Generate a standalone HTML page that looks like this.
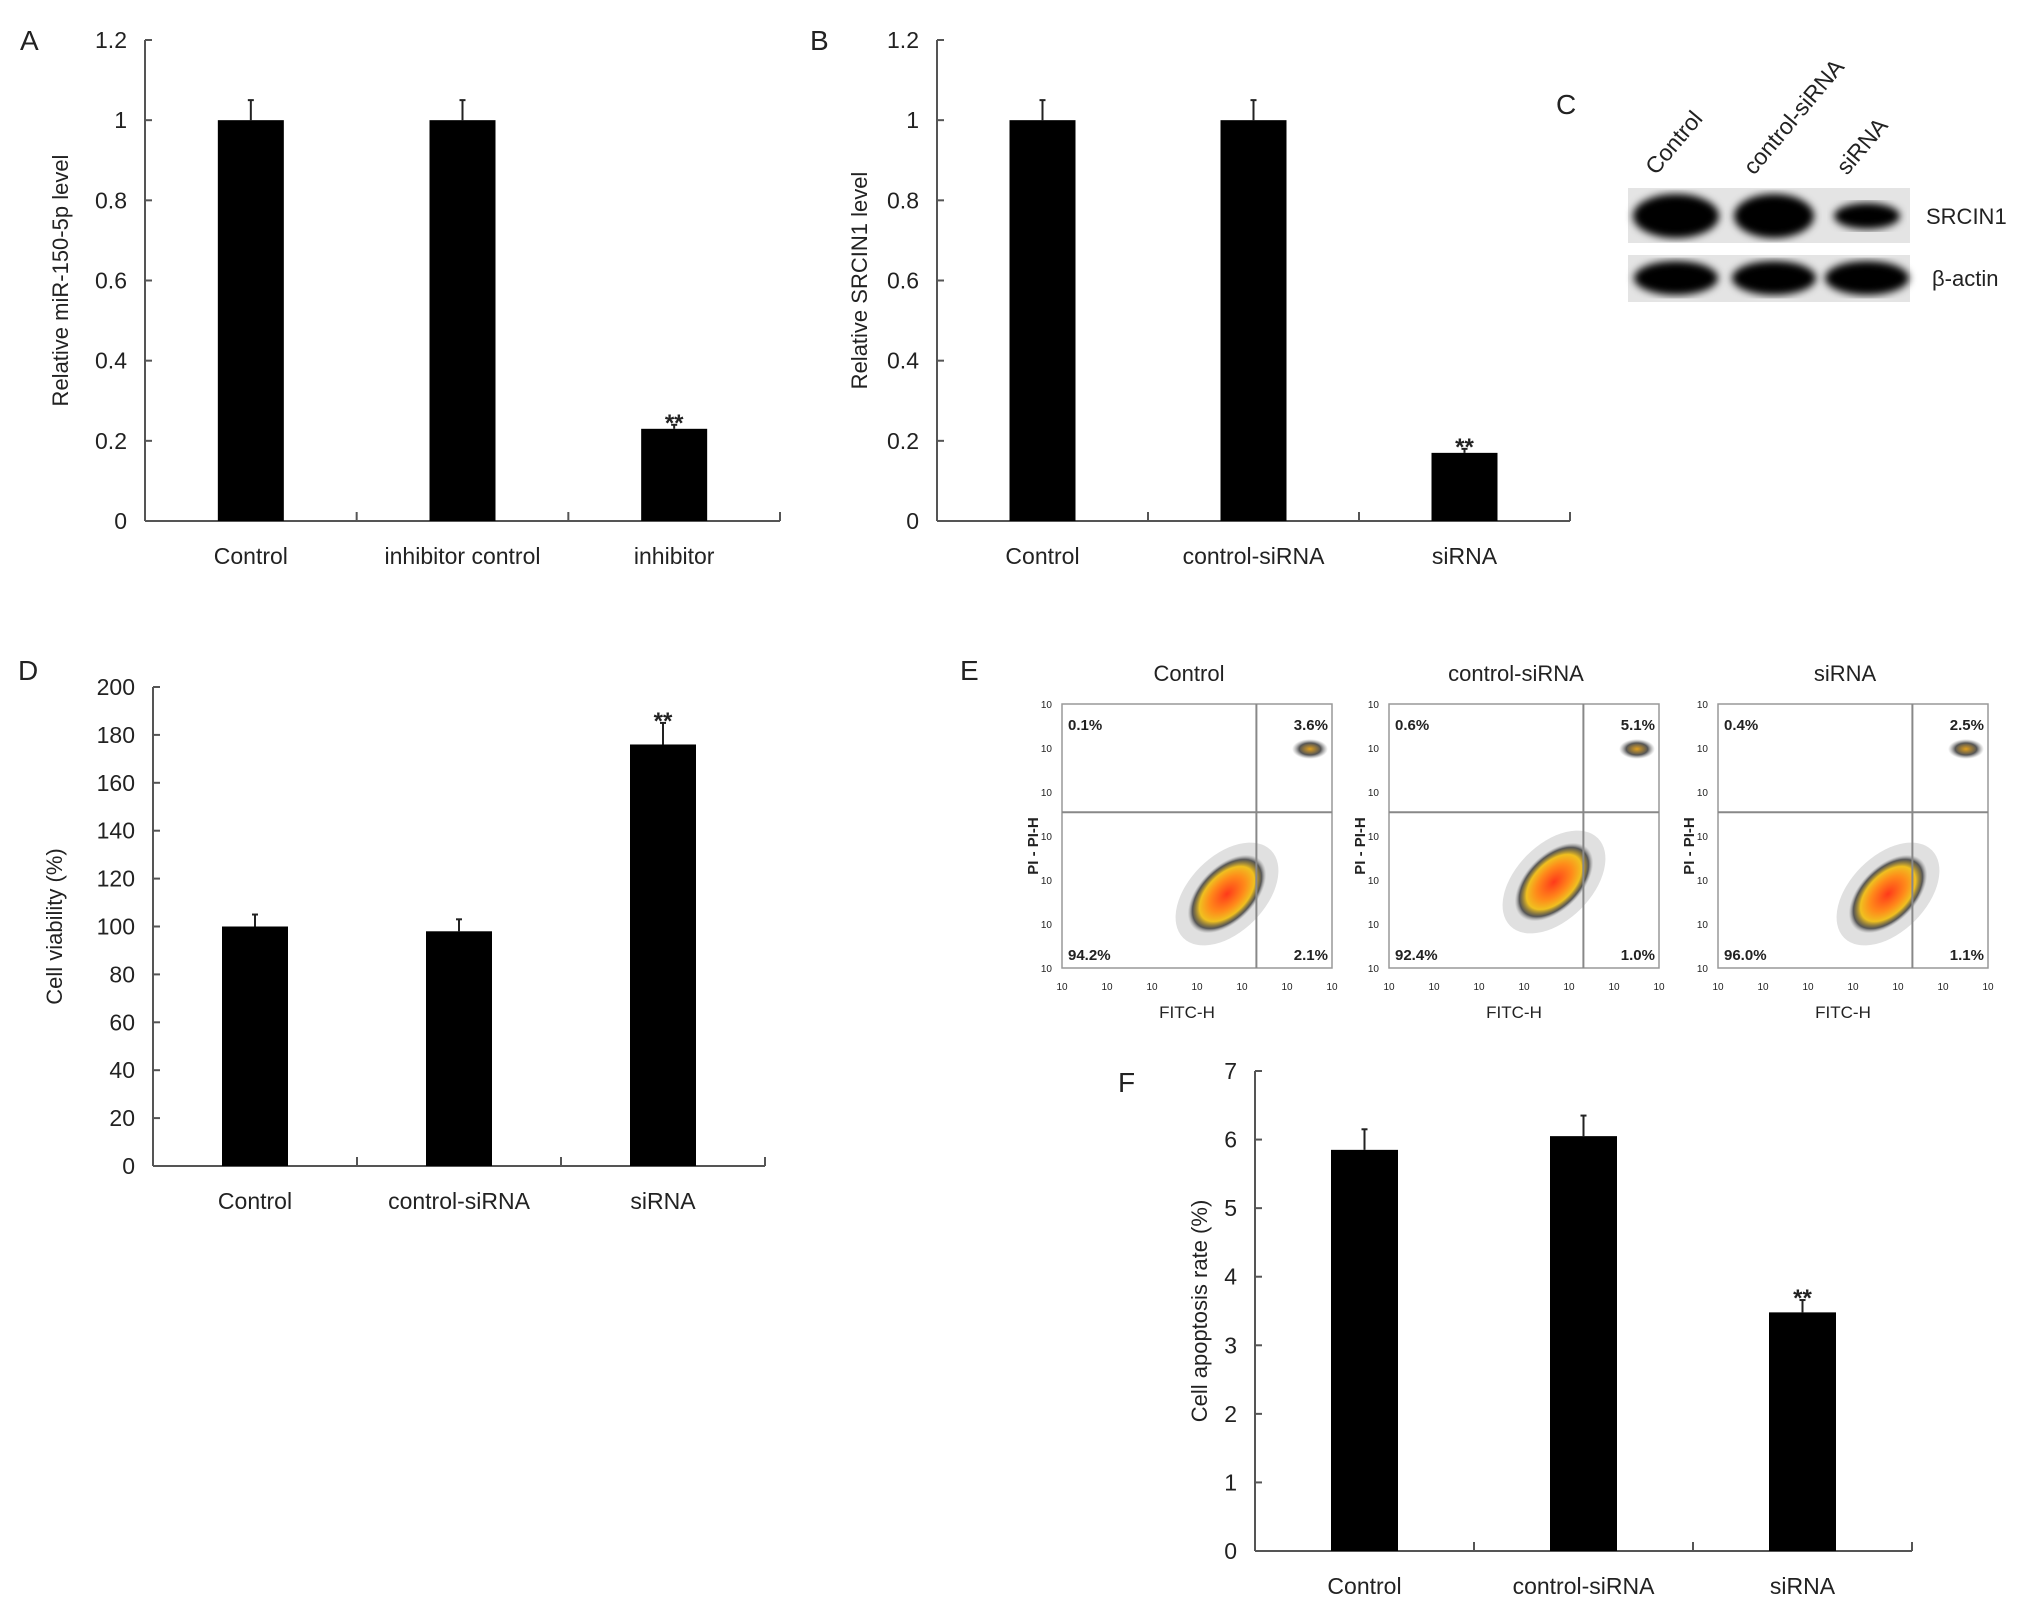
<!DOCTYPE html>
<html><head><meta charset="utf-8">
<style>
html,body{margin:0;padding:0;background:#fff;}
svg{display:block;}
text{font-family:"Liberation Sans",Arial,sans-serif;fill:#222;}
</style></head>
<body>
<svg id="fig" width="2031" height="1611" viewBox="0 0 2031 1611" xmlns="http://www.w3.org/2000/svg">
<defs>
<radialGradient id="blob" cx="50%" cy="50%" r="50%">
<stop offset="0%" stop-color="#ff3a1a"/>
<stop offset="45%" stop-color="#ff8a1a"/>
<stop offset="70%" stop-color="#f0c020"/>
<stop offset="88%" stop-color="#333" stop-opacity="0.8"/>
<stop offset="100%" stop-color="#888" stop-opacity="0"/>
</radialGradient>
<radialGradient id="blob2" cx="50%" cy="50%" r="50%">
<stop offset="0%" stop-color="#e0a020"/>
<stop offset="60%" stop-color="#555"/>
<stop offset="100%" stop-color="#999" stop-opacity="0"/>
</radialGradient>
<filter id="blur"><feGaussianBlur stdDeviation="4"/></filter>
</defs>
<g id="panels"></g>
</svg>
<script>
// Panel A data
const catsA = ["Control","inhibitor control","inhibitor"];
const valsA = [1, 1, 0.23];
const errsA = [0.05, 0.05, 0.01];
const ticksA = ["0","0.2","0.4","0.6","0.8","1","1.2"];
// Panel B data
const catsB = ["Control","control-siRNA","siRNA"];
const valsB = [1, 1, 0.17];
const errsB = [0.05, 0.05, 0.01];
const ticksB = ["0","0.2","0.4","0.6","0.8","1","1.2"];
// Panel D data
const catsD = ["Control","control-siRNA","siRNA"];
const valsD = [100, 98, 176];
const errsD = [5, 5, 9];
const ticksD = ["0","20","40","60","80","100","120","140","160","180","200"];
// Panel F data
const catsF = ["Control","control-siRNA","siRNA"];
const valsF = [5.85, 6.05, 3.48];
const errsF = [0.3, 0.3, 0.18];
const ticksF = ["0","1","2","3","4","5","6","7"];
// significance markers
const sigA = ["","","**"];
const sigB = ["","","**"];
const sigD = ["","","**"];
const sigF = ["","","**"];
// Panel E quadrant percentages
const flowTitles = ["Control","control-siRNA","siRNA"];
const flowUL = ["0.1%","0.6%","0.4%"];
const flowUR = ["3.6%","5.1%","2.5%"];
const flowLL = ["94.2%","92.4%","96.0%"];
const flowLR = ["2.1%","1.0%","1.1%"];

const NS = "http://www.w3.org/2000/svg";
const root = document.getElementById("panels");
function mk(tag, attrs, parent, txt){
  const e = document.createElementNS(NS, tag);
  for (const k in attrs) e.setAttribute(k, attrs[k]);
  if (txt !== undefined) e.textContent = txt;
  (parent||root).appendChild(e);
  return e;
}

function barChart(o){
  const g = mk("g", {});
  
  
  const max = parseFloat(o.ticks[o.ticks.length-1]);
  const y = v => o.y0 - (v/max)*(o.y0 - o.yTop);
  const n = o.cats.length;
  const step = (o.xEnd - o.x0)/n;
  const xc = i => o.x0 + step*(i+0.5);
  const ya = mk("line",{x1:o.x0,y1:o.yTop,x2:o.x0,y2:o.y0,stroke:"#555","stroke-width":2},g);
  
  
  const xa = mk("line",{x1:o.x0,y1:o.y0,x2:o.xEnd,y2:o.y0,stroke:"#555","stroke-width":2},g);
  
  
  o.ticks.forEach((t)=>{
    const yy = y(parseFloat(t));
    mk("line",{x1:o.x0,y1:yy,x2:o.x0+7,y2:yy,stroke:"#555","stroke-width":2},g);
    const tl = mk("text",{x:o.x0-18,y:yy+8,"text-anchor":"end","font-size":23},g,t);
    
    
  });
  for (let i=1;i<=n;i++){
    const xx = o.x0+step*i;
    mk("line",{x1:xx,y1:o.y0,x2:xx,y2:o.y0-9,stroke:"#555","stroke-width":2},g);
  }
  o.cats.forEach((c,i)=>{
    const top = y(o.vals[i]);
    const eb = mk("line",{x1:xc(i),y1:y(o.vals[i]+o.errs[i]),x2:xc(i),y2:top,stroke:"#222","stroke-width":2},g);
    
    
    mk("line",{x1:xc(i)-3,y1:y(o.vals[i]+o.errs[i]),x2:xc(i)+3,y2:y(o.vals[i]+o.errs[i]),stroke:"#222","stroke-width":2},g);
    const b = mk("rect",{x:xc(i)-o.bw/2,y:top,width:o.bw,height:o.y0-top,fill:"#000"},g);
    
    
    const cl = mk("text",{x:xc(i),y:o.y0+43,"text-anchor":"middle","font-size":23},g,c);
    
    
    if (o.sig[i]){
      const s = mk("text",{x:xc(i),y:y(o.vals[i]+o.errs[i])+6,"text-anchor":"middle","font-size":24,"font-weight":"bold"},g,o.sig[i]);
      
      
    }
  });
  const yt = mk("text",{x:0,y:0,"text-anchor":"middle","font-size":22,transform:`translate(${o.titleX},${(o.y0+o.yTop)/2}) rotate(-90)`},g,o.title);
  
  
  const pl = mk("text",{x:o.letter[0],y:o.letter[1],"font-size":28},g,o.letterT);
  
  
}

barChart({name:"chart-a",cats:catsA,vals:valsA,errs:errsA,ticks:ticksA,sig:sigA,x0:145,xEnd:780,yTop:40,y0:521,bw:66,title:"Relative miR-150-5p level",titleX:68,letter:[20,50],letterT:"A"});
barChart({name:"chart-b",cats:catsB,vals:valsB,errs:errsB,ticks:ticksB,sig:sigB,x0:937,xEnd:1570,yTop:40,y0:521,bw:66,title:"Relative SRCIN1 level",titleX:867,letter:[810,50],letterT:"B"});
barChart({name:"chart-d",cats:catsD,vals:valsD,errs:errsD,ticks:ticksD,sig:sigD,x0:153,xEnd:765,yTop:687,y0:1166,bw:66,title:"Cell viability (%)",titleX:62,letter:[18,680],letterT:"D"});
barChart({name:"chart-f",cats:catsF,vals:valsF,errs:errsF,ticks:ticksF,sig:sigF,x0:1255,xEnd:1912,yTop:1071,y0:1551,bw:67,title:"Cell apoptosis rate (%)",titleX:1207,letter:[1118,1092],letterT:"F"});

// Panel C western blot
(function(){
  const g = mk("g",{});
  
  
  const c = mk("text",{x:1556,y:114,"font-size":28},g,"C");
  
  
  mk("rect",{x:1628,y:188,width:282,height:55,fill:"#e4e4e4"},g);
  mk("rect",{x:1628,y:255,width:282,height:47,fill:"#e4e4e4"},g);
  const lanes = ["Control","control-siRNA","siRNA"];
  const cx = [1676,1774,1867];
  const w1 = [86,80,66], h1 = [22,22,13];
  lanes.forEach((l,i)=>{
    mk("ellipse",{cx:cx[i],cy:216,rx:w1[i]/2,ry:h1[i],fill:"#000",filter:"url(#blur)"},g);
    mk("ellipse",{cx:cx[i],cy:278,rx:42,ry:17,fill:"#000",filter:"url(#blur)"},g);
    const t = mk("text",{x:0,y:0,"font-size":23,transform:`translate(${cx[i]-20},${176}) rotate(-50)`},g,l);
    
    
  });
  const s = mk("text",{x:1926,y:224,"font-size":22},g,"SRCIN1");
  
  
  const b = mk("text",{x:1932,y:286,"font-size":22},g,"β-actin");
  
  
})();

// Panel E flow cytometry
(function(){
  const e = mk("text",{x:960,y:680,"font-size":28},undefined,"E");
  
  
  const boxX = [1062,1389,1718];
  const blobOff = [[0,0],[0,-12],[5,0]];
  flowTitles.forEach((t,i)=>{
    const g = mk("g",{});
    
    
    const x0 = boxX[i], y0 = 704, w = 270, h = 264;
    const tt = mk("text",{x:x0+w/2-8,y:681,"text-anchor":"middle","font-size":22},g,t);
    
    
    mk("rect",{x:x0,y:y0,width:w,height:h,fill:"#fff",stroke:"#999","stroke-width":1.5},g);
    const bx = x0+165+blobOff[i][0], by = y0+190+blobOff[i][1];
    mk("ellipse",{cx:bx,cy:by,rx:62,ry:38,fill:"#999",opacity:0.3,transform:`rotate(-45 ${bx} ${by})`},g);
    mk("ellipse",{cx:bx,cy:by,rx:48,ry:28,fill:"url(#blob)",transform:`rotate(-45 ${bx} ${by})`},g);
    mk("ellipse",{cx:x0+248,cy:y0+45,rx:18,ry:10,fill:"url(#blob2)"},g);
    mk("line",{x1:x0+w*0.72,y1:y0,x2:x0+w*0.72,y2:y0+h,stroke:"#888","stroke-width":2},g);
    mk("line",{x1:x0,y1:y0+h*0.41,x2:x0+w,y2:y0+h*0.41,stroke:"#888","stroke-width":2},g);
    const q = [[flowUL[i],x0+6,y0+26,"start"],[flowUR[i],x0+w-4,y0+26,"end"],[flowLL[i],x0+6,y0+h-8,"start"],[flowLR[i],x0+w-4,y0+h-8,"end"]];
    q.forEach(a=>{
      const qt = mk("text",{x:a[1],y:a[2],"text-anchor":a[3],"font-size":15,"font-weight":"bold","font-family":"DejaVu Sans"},g,a[0]);
      
      
    });
    for (let k=0;k<7;k++){
      mk("text",{x:x0+k*w/6,y:y0+h+22,"text-anchor":"middle","font-size":10},g,"10");
      mk("text",{x:x0-10,y:y0+h-k*h/6+4,"text-anchor":"end","font-size":10},g,"10");
    }
    const xl = mk("text",{x:x0+w/2-10,y:y0+h+50,"text-anchor":"middle","font-size":17},g,"FITC-H");
    
    
    const yl = mk("text",{x:0,y:0,"text-anchor":"middle","font-size":15,"font-weight":"bold",transform:`translate(${x0-24},${y0+h/2+10}) rotate(-90)`},g,"PI - PI-H");
    
    
  });
})();
</script>
</body></html>
